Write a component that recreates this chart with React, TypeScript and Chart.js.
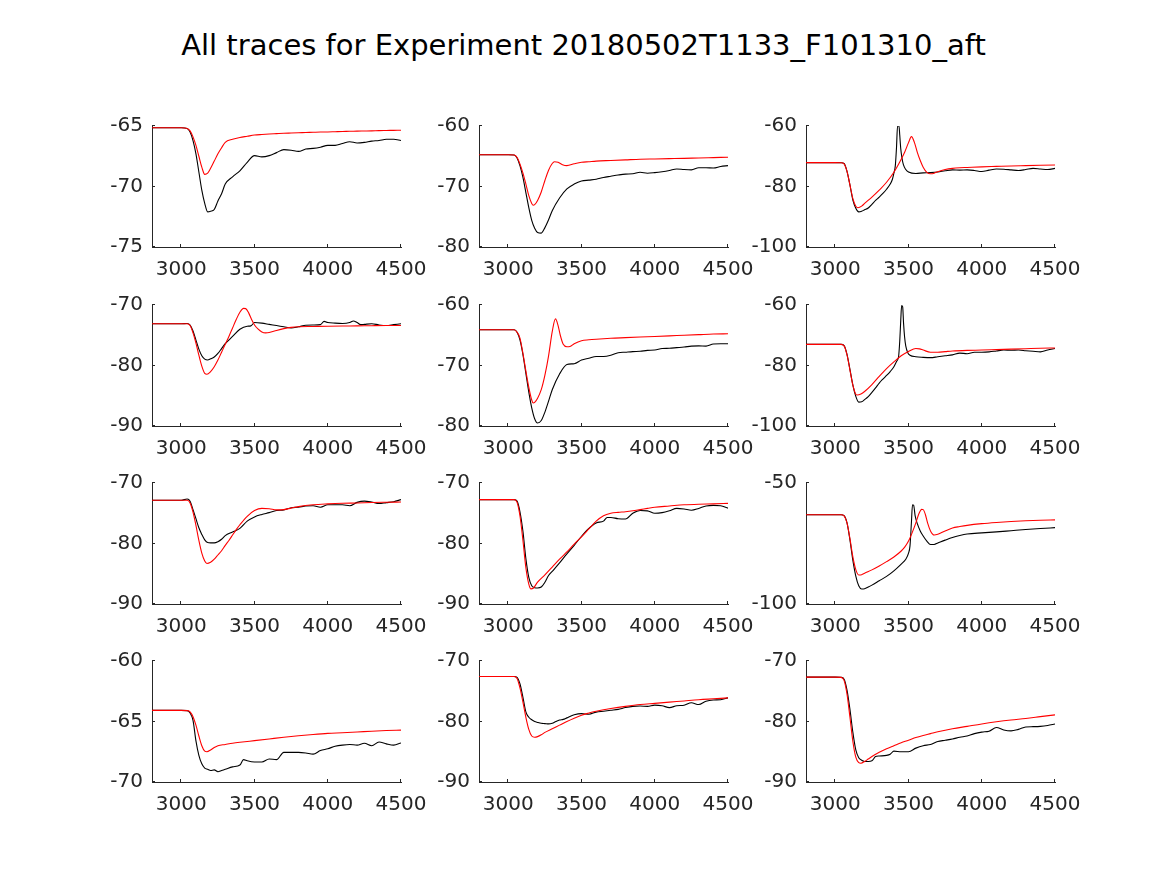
import React, { useEffect, useRef } from "react";
import { Chart, registerables } from "chart.js";

Chart.register(...registerables);

const TITLE = "All traces for Experiment 20180502T1133_F101310_aft";
const X_MIN = 2800;
const X_MAX = 4500;
const X_TICKS = [3000, 3500, 4000, 4500];

const GRID_A = [2800, 3000, 3040, 3060, 3080, 3100, 3120, 3140, 3160, 3180, 3200, 3225, 3250, 3275, 3300, 3350, 3400, 3450, 3500, 3550, 3600, 3650, 3700, 3750, 3800, 3850, 3900, 3950, 4000, 4050, 4100, 4150, 4200, 4250, 4300, 4350, 4400, 4450, 4500];

// Panel 1
const P1_RED_X = GRID_A;
const P1_RED_Y = [-65.15, -65.15, -65.2, -65.4, -65.9, -66.6, -67.5, -68.4, -69.0, -68.9, -68.5, -67.9, -67.3, -66.8, -66.35, -66.1, -65.95, -65.85, -65.75, -65.7, -65.66, -65.63, -65.6, -65.58, -65.56, -65.54, -65.52, -65.5, -65.49, -65.47, -65.45, -65.44, -65.42, -65.41, -65.4, -65.38, -65.37, -65.36, -65.35];
const P1_BLACK_X = GRID_A;
const P1_BLACK_Y = [-65.15, -65.15, -65.2, -65.5, -66.2, -67.3, -68.8, -70.3, -71.4, -72.1, -72.05, -71.9, -71.2, -70.6, -69.8, -69.2, -68.7, -68.0, -67.45, -67.55, -67.45, -67.2, -66.95, -67.0, -67.1, -66.9, -66.85, -66.75, -66.6, -66.6, -66.45, -66.3, -66.4, -66.35, -66.25, -66.2, -66.1, -66.1, -66.2];

// Panel 2
const P2_RED_X = [2800, 3000, 3040, 3060, 3080, 3100, 3120, 3140, 3160, 3170, 3180, 3200, 3225, 3250, 3275, 3300, 3315, 3340, 3370, 3400, 3450, 3500, 3550, 3600, 3700, 3800, 3900, 4000, 4100, 4200, 4300, 4400, 4500];
const P2_RED_Y = [-64.75, -64.75, -64.8, -65.2, -66.3, -67.8, -69.6, -71.5, -72.8, -73.1, -73.0, -72.3, -70.9, -69.0, -67.3, -66.2, -65.9, -66.0, -66.4, -66.55, -66.25, -66.0, -65.9, -65.8, -65.7, -65.6, -65.5, -65.45, -65.4, -65.35, -65.28, -65.22, -65.16];
const P2_BLACK_X = GRID_A;
const P2_BLACK_Y = [-64.75, -64.75, -64.8, -65.3, -66.6, -68.5, -71.0, -73.5, -75.6, -76.9, -77.6, -77.7, -76.8, -75.5, -74.0, -71.9, -70.4, -69.6, -69.1, -68.95, -68.8, -68.5, -68.3, -68.1, -67.95, -67.9, -67.65, -67.8, -67.7, -67.55, -67.35, -67.1, -67.2, -67.25, -66.9, -66.9, -66.95, -66.7, -66.55];

// Panel 3
const P3_RED_X = [2800, 3000, 3040, 3060, 3080, 3100, 3120, 3140, 3155, 3180, 3200, 3250, 3300, 3350, 3400, 3450, 3475, 3500, 3520, 3540, 3560, 3580, 3600, 3625, 3650, 3675, 3700, 3750, 3800, 3850, 3900, 4000, 4100, 4200, 4300, 4400, 4500];
const P3_RED_Y = [-72.1, -72.1, -72.15, -72.5, -75.0, -79.5, -84.0, -86.5, -87.0, -86.5, -85.6, -83.5, -81.2, -78.6, -75.3, -71.0, -68.5, -65.5, -63.5, -65.4, -68.7, -71.4, -73.6, -75.3, -75.8, -75.6, -75.1, -74.4, -74.0, -73.8, -73.7, -73.5, -73.35, -73.2, -73.1, -73.0, -72.9];
const P3_BLACK_X = [2800, 3000, 3040, 3060, 3080, 3100, 3120, 3140, 3160, 3180, 3200, 3225, 3250, 3275, 3300, 3325, 3350, 3375, 3390, 3400, 3410, 3418, 3425, 3435, 3440, 3447, 3455, 3465, 3480, 3500, 3550, 3600, 3650, 3700, 3750, 3800, 3850, 3900, 3950, 4000, 4050, 4100, 4150, 4200, 4250, 4300, 4350, 4400, 4450, 4500];
const P3_BLACK_Y = [-72.1, -72.1, -72.15, -72.4, -75.0, -79.5, -84.5, -87.2, -88.4, -88.2, -87.7, -87.1, -85.9, -84.6, -83.5, -82.3, -80.9, -79.2, -77.6, -75.6, -73.0, -67.0, -60.0, -60.0, -63.0, -67.5, -70.5, -72.8, -74.3, -75.2, -75.7, -75.5, -75.4, -75.2, -74.8, -74.5, -74.6, -74.5, -74.7, -75.05, -74.6, -74.2, -74.3, -74.5, -74.7, -74.4, -74.0, -74.2, -74.4, -74.0];

// Panel 4
const P4_RED_X = [2800, 3000, 3040, 3060, 3080, 3100, 3120, 3140, 3160, 3175, 3200, 3225, 3250, 3275, 3300, 3325, 3350, 3375, 3400, 3425, 3440, 3460, 3480, 3500, 3525, 3550, 3575, 3600, 3650, 3700, 3750, 3800, 3900, 4000, 4100, 4200, 4300, 4400, 4500];
const P4_RED_Y = [-73.1, -73.1, -73.1, -73.4, -74.6, -76.3, -78.3, -80.1, -81.3, -81.45, -81.0, -80.2, -79.1, -77.8, -76.5, -75.2, -73.8, -72.4, -71.2, -70.55, -70.6, -71.3, -72.4, -73.3, -74.0, -74.45, -74.6, -74.55, -74.2, -73.9, -73.7, -73.6, -73.55, -73.5, -73.47, -73.45, -73.42, -73.4, -73.4];
const P4_BLACK_X = [2800, 3000, 3040, 3060, 3080, 3100, 3120, 3140, 3160, 3180, 3200, 3225, 3250, 3275, 3300, 3350, 3400, 3450, 3475, 3500, 3550, 3600, 3650, 3700, 3750, 3800, 3850, 3900, 3950, 3975, 4000, 4050, 4100, 4150, 4175, 4200, 4225, 4250, 4300, 4350, 4400, 4450, 4500];
const P4_BLACK_Y = [-73.1, -73.1, -73.05, -73.3, -74.3, -75.8, -77.3, -78.4, -78.95, -79.1, -78.9, -78.6, -78.0, -77.2, -76.4, -75.2, -74.0, -73.5, -73.45, -72.9, -73.0, -73.2, -73.4, -73.6, -73.8, -73.6, -73.35, -73.3, -73.25, -72.7, -72.9, -73.0, -73.05, -72.9, -72.65, -72.9, -73.25, -73.2, -73.1, -73.3, -73.4, -73.25, -73.1];

// Panel 5
const P5_RED_X = [2800, 3000, 3040, 3060, 3080, 3100, 3120, 3140, 3160, 3170, 3180, 3200, 3225, 3250, 3275, 3300, 3322, 3340, 3355, 3375, 3400, 3425, 3450, 3500, 3550, 3600, 3700, 3800, 3900, 4000, 4100, 4200, 4300, 4400, 4500];
const P5_RED_Y = [-64.1, -64.1, -64.1, -64.5, -65.5, -68.0, -70.9, -73.6, -75.7, -76.2, -76.1, -75.4, -74.0, -71.6, -68.4, -64.4, -62.3, -63.4, -65.0, -66.5, -66.9, -66.8, -66.4, -65.9, -65.75, -65.65, -65.5, -65.4, -65.3, -65.2, -65.1, -65.0, -64.9, -64.8, -64.75];
const P5_BLACK_X = GRID_A;
const P5_BLACK_Y = [-64.1, -64.1, -64.1, -64.5, -65.8, -68.2, -71.3, -74.4, -77.0, -78.8, -79.5, -79.1, -77.7, -75.9, -74.0, -71.4, -69.85, -69.7, -69.1, -68.8, -68.5, -68.5, -68.3, -67.9, -67.8, -67.7, -67.65, -67.5, -67.45, -67.2, -67.15, -67.05, -66.95, -66.8, -66.75, -66.8, -66.45, -66.4, -66.4];

// Panel 6
const P6_RED_X = [2800, 3000, 3040, 3060, 3080, 3100, 3120, 3140, 3150, 3175, 3200, 3250, 3300, 3350, 3400, 3450, 3500, 3550, 3575, 3600, 3650, 3700, 3750, 3800, 3900, 4000, 4100, 4200, 4300, 4400, 4500];
const P6_RED_Y = [-73.0, -73.0, -73.0, -73.5, -76.5, -81.5, -86.5, -89.5, -89.75, -89.4, -88.6, -86.3, -83.6, -81.0, -78.8, -76.8, -75.4, -74.4, -74.5, -74.9, -75.6, -75.6, -75.4, -75.2, -75.0, -74.9, -74.75, -74.6, -74.45, -74.3, -74.2];
const P6_BLACK_X = [2800, 3000, 3040, 3060, 3080, 3100, 3120, 3140, 3160, 3180, 3200, 3225, 3250, 3275, 3300, 3325, 3350, 3375, 3400, 3420, 3432, 3440, 3447, 3453, 3460, 3466, 3473, 3481, 3495, 3510, 3550, 3600, 3650, 3700, 3750, 3800, 3850, 3900, 3950, 4000, 4050, 4100, 4150, 4200, 4250, 4300, 4350, 4400, 4450, 4500];
const P6_BLACK_Y = [-73.0, -73.0, -73.0, -73.4, -76.3, -81.3, -86.5, -90.2, -92.1, -92.0, -91.3, -90.3, -88.9, -87.4, -85.8, -84.5, -83.3, -82.0, -80.4, -78.5, -77.1, -72.0, -65.0, -60.2, -60.6, -66.0, -70.5, -73.5, -75.8, -76.6, -77.1, -77.3, -77.4, -77.1, -76.8, -76.5, -75.9, -76.1, -75.6, -75.6, -75.5, -75.2, -74.9, -74.95, -74.9, -75.1, -75.3, -75.5, -74.9, -74.4];

// Panel 7
const P7_RED_X = [2800, 3000, 3040, 3060, 3080, 3100, 3120, 3140, 3160, 3175, 3200, 3225, 3250, 3275, 3300, 3325, 3350, 3375, 3400, 3450, 3500, 3550, 3600, 3650, 3700, 3750, 3800, 3900, 4000, 4100, 4200, 4300, 4400, 4500];
const P7_RED_Y = [-72.85, -72.85, -72.85, -73.3, -74.8, -77.0, -79.5, -81.6, -82.9, -83.3, -83.1, -82.6, -81.9, -81.2, -80.3, -79.5, -78.6, -77.7, -76.9, -75.5, -74.55, -74.2, -74.25, -74.45, -74.4, -74.15, -73.9, -73.6, -73.45, -73.35, -73.3, -73.22, -73.18, -73.15];
const P7_BLACK_X = GRID_A;
const P7_BLACK_Y = [-72.85, -72.85, -72.65, -73.0, -74.4, -75.9, -77.4, -78.5, -79.4, -79.85, -79.9, -79.9, -79.7, -79.3, -78.7, -78.1, -77.5, -76.3, -75.6, -75.2, -74.9, -74.55, -74.45, -74.1, -74.0, -73.8, -73.75, -74.0, -73.6, -73.6, -73.6, -73.75, -73.2, -73.0, -73.15, -73.4, -73.25, -73.1, -72.75];

// Panel 8
const P8_RED_X = [2800, 3000, 3040, 3060, 3080, 3100, 3120, 3140, 3155, 3170, 3200, 3250, 3300, 3350, 3400, 3450, 3500, 3550, 3600, 3650, 3700, 3750, 3800, 3850, 3900, 3950, 4000, 4100, 4200, 4300, 4400, 4500];
const P8_RED_Y = [-72.75, -72.75, -72.75, -73.2, -75.5, -79.5, -84.0, -86.7, -87.5, -87.4, -86.4, -85.2, -83.9, -82.6, -81.4, -80.1, -78.9, -77.6, -76.3, -75.4, -75.0, -74.85, -74.75, -74.6, -74.4, -74.2, -74.0, -73.8, -73.6, -73.5, -73.45, -73.37];
const P8_BLACK_X = [2800, 3000, 3040, 3060, 3080, 3100, 3120, 3140, 3160, 3180, 3200, 3225, 3250, 3275, 3300, 3350, 3400, 3450, 3500, 3550, 3600, 3650, 3675, 3700, 3750, 3800, 3850, 3900, 3950, 4000, 4050, 4100, 4150, 4200, 4250, 4300, 4350, 4400, 4450, 4500];
const P8_BLACK_Y = [-72.75, -72.75, -72.75, -73.0, -74.8, -78.0, -82.5, -85.6, -87.0, -87.3, -87.35, -87.2, -86.4, -85.3, -84.6, -83.2, -81.7, -80.3, -78.8, -77.5, -76.6, -76.3, -75.7, -75.7, -75.9, -75.95, -75.0, -74.55, -74.6, -75.0, -74.9, -74.6, -74.2, -74.3, -74.5, -74.2, -73.8, -73.7, -73.75, -74.15];

// Panel 9
const P9_RED_X = [2800, 3000, 3040, 3060, 3080, 3100, 3120, 3140, 3160, 3180, 3200, 3250, 3300, 3350, 3400, 3450, 3475, 3500, 3525, 3550, 3570, 3590, 3600, 3615, 3630, 3650, 3675, 3700, 3750, 3800, 3850, 3900, 4000, 4100, 4200, 4300, 4400, 4500];
const P9_RED_Y = [-63.1, -63.1, -63.1, -63.6, -66.5, -73.0, -80.5, -85.8, -88.0, -87.9, -87.3, -85.9, -84.3, -82.5, -80.6, -78.1, -76.4, -74.0, -70.5, -66.5, -62.8, -60.9, -61.0, -63.0, -66.5, -69.8, -71.5, -71.2, -69.8, -68.6, -68.0, -67.5, -66.8, -66.3, -65.9, -65.6, -65.4, -65.25];
const P9_BLACK_X = [2800, 3000, 3040, 3060, 3080, 3100, 3120, 3140, 3160, 3180, 3200, 3225, 3250, 3300, 3350, 3400, 3450, 3480, 3500, 3510, 3520, 3527, 3535, 3545, 3560, 3580, 3600, 3625, 3650, 3675, 3700, 3750, 3800, 3850, 3900, 4000, 4100, 4200, 4300, 4400, 4500];
const P9_BLACK_Y = [-63.1, -63.1, -63.1, -63.5, -66.5, -73.5, -82.0, -88.5, -92.5, -93.8, -93.7, -93.0, -92.2, -90.4, -88.6, -86.3, -83.5, -81.6, -79.0, -76.0, -66.0, -59.0, -59.2, -63.5, -66.8, -69.8, -71.9, -74.0, -75.4, -75.4, -74.8, -73.6, -72.5, -71.7, -71.1, -70.6, -70.2, -69.7, -69.2, -68.8, -68.45];

// Panel 10
const P10_RED_X = [2800, 3000, 3040, 3060, 3080, 3100, 3120, 3140, 3160, 3175, 3200, 3225, 3250, 3300, 3350, 3400, 3500, 3600, 3700, 3800, 3900, 4000, 4100, 4200, 4300, 4400, 4500];
const P10_RED_Y = [-64.08, -64.08, -64.1, -64.2, -64.6, -65.3, -66.2, -67.0, -67.45, -67.5, -67.35, -67.15, -67.0, -66.9, -66.8, -66.72, -66.58, -66.44, -66.3, -66.18, -66.07, -65.98, -65.93, -65.87, -65.8, -65.75, -65.71];
const P10_BLACK_X = [2800, 3000, 3040, 3060, 3080, 3100, 3120, 3140, 3160, 3180, 3200, 3225, 3250, 3275, 3300, 3350, 3400, 3425, 3450, 3500, 3550, 3600, 3650, 3700, 3750, 3800, 3850, 3900, 3950, 4000, 4050, 4100, 4150, 4200, 4250, 4300, 4350, 4400, 4450, 4500];
const P10_BLACK_Y = [-64.08, -64.08, -64.1, -64.3, -64.9, -66.6, -67.8, -68.5, -68.85, -68.95, -69.05, -69.0, -69.15, -69.05, -68.95, -68.75, -68.6, -68.15, -68.25, -68.35, -68.35, -68.1, -68.15, -67.55, -67.55, -67.55, -67.6, -67.7, -67.4, -67.25, -67.05, -66.95, -66.9, -66.95, -66.8, -67.0, -66.7, -66.85, -66.95, -66.77];

// Panel 11
const P11_RED_X = [2800, 3000, 3040, 3060, 3080, 3100, 3120, 3140, 3160, 3180, 3200, 3225, 3250, 3300, 3350, 3400, 3450, 3500, 3550, 3600, 3650, 3700, 3800, 3900, 4000, 4100, 4200, 4300, 4400, 4500];
const P11_RED_Y = [-72.55, -72.55, -72.55, -72.9, -74.5, -76.8, -79.3, -81.3, -82.4, -82.6, -82.5, -82.2, -81.8, -81.2, -80.6, -80.0, -79.45, -78.95, -78.6, -78.3, -78.05, -77.85, -77.5, -77.2, -77.0, -76.8, -76.6, -76.4, -76.25, -76.1];
const P11_BLACK_X = [2800, 3000, 3040, 3060, 3080, 3100, 3120, 3140, 3160, 3180, 3200, 3225, 3250, 3275, 3300, 3325, 3350, 3375, 3400, 3450, 3500, 3550, 3600, 3650, 3700, 3750, 3800, 3850, 3900, 3950, 4000, 4050, 4100, 4150, 4200, 4250, 4300, 4350, 4400, 4450, 4500];
const P11_BLACK_Y = [-72.55, -72.55, -72.55, -72.7, -73.8, -76.0, -78.4, -79.3, -79.7, -80.0, -80.15, -80.3, -80.35, -80.4, -80.3, -80.0, -79.75, -79.65, -79.4, -78.9, -78.7, -78.8, -78.45, -78.3, -78.15, -78.0, -77.7, -77.5, -77.45, -77.5, -77.3, -77.4, -77.7, -77.4, -77.3, -76.9, -77.2, -76.65, -76.45, -76.4, -76.1];

// Panel 12
const P12_RED_X = [2800, 3000, 3040, 3060, 3080, 3100, 3120, 3140, 3160, 3175, 3200, 3225, 3250, 3300, 3350, 3400, 3450, 3500, 3550, 3600, 3650, 3700, 3800, 3900, 4000, 4100, 4200, 4300, 4400, 4500];
const P12_RED_Y = [-72.66, -72.66, -72.7, -73.2, -75.5, -79.3, -83.3, -85.9, -86.8, -86.9, -86.6, -86.2, -85.8, -85.1, -84.5, -84.0, -83.5, -83.1, -82.65, -82.3, -82.0, -81.7, -81.2, -80.8, -80.4, -80.05, -79.75, -79.5, -79.2, -78.9];
const P12_BLACK_X = [2800, 3000, 3040, 3060, 3080, 3100, 3120, 3140, 3160, 3180, 3200, 3225, 3250, 3275, 3300, 3350, 3375, 3400, 3450, 3500, 3550, 3600, 3650, 3700, 3750, 3800, 3850, 3900, 3950, 4000, 4050, 4100, 4150, 4200, 4250, 4300, 4350, 4400, 4450, 4500];
const P12_BLACK_Y = [-72.66, -72.66, -72.7, -73.0, -74.8, -78.0, -81.8, -84.7, -86.0, -86.4, -86.6, -86.6, -86.5, -85.8, -85.7, -85.6, -85.4, -84.9, -85.0, -85.0, -84.4, -84.0, -83.8, -83.3, -83.1, -82.9, -82.6, -82.4, -82.0, -81.75, -81.6, -81.0, -81.4, -81.55, -81.3, -80.9, -80.85, -80.8, -80.65, -80.4];

const Y_MIN = [-75, -80, -100, -90, -80, -100, -90, -90, -100, -70, -90, -90];
const Y_MAX = [-65, -60, -60, -70, -60, -60, -70, -70, -50, -60, -70, -70];
const Y_TICKS = [
  [-75, -70, -65], [-80, -70, -60], [-100, -80, -60],
  [-90, -80, -70], [-80, -70, -60], [-100, -80, -60],
  [-90, -80, -70], [-90, -80, -70], [-100, -50],
  [-70, -65, -60], [-90, -80, -70], [-90, -80, -70],
];

const SERIES = [
  [P1_RED_X, P1_RED_Y, P1_BLACK_X, P1_BLACK_Y],
  [P2_RED_X, P2_RED_Y, P2_BLACK_X, P2_BLACK_Y],
  [P3_RED_X, P3_RED_Y, P3_BLACK_X, P3_BLACK_Y],
  [P4_RED_X, P4_RED_Y, P4_BLACK_X, P4_BLACK_Y],
  [P5_RED_X, P5_RED_Y, P5_BLACK_X, P5_BLACK_Y],
  [P6_RED_X, P6_RED_Y, P6_BLACK_X, P6_BLACK_Y],
  [P7_RED_X, P7_RED_Y, P7_BLACK_X, P7_BLACK_Y],
  [P8_RED_X, P8_RED_Y, P8_BLACK_X, P8_BLACK_Y],
  [P9_RED_X, P9_RED_Y, P9_BLACK_X, P9_BLACK_Y],
  [P10_RED_X, P10_RED_Y, P10_BLACK_X, P10_BLACK_Y],
  [P11_RED_X, P11_RED_Y, P11_BLACK_X, P11_BLACK_Y],
  [P12_RED_X, P12_RED_Y, P12_BLACK_X, P12_BLACK_Y],
];

// Layout (page pixels)
const COL_LEFT = [152, 479, 806];
const ROW_TOP = [125, 304, 482, 660];
const PLOT_W = 249;
const PLOT_H = 122;
const AX_W = 70;
const AX_H = 45;
const PAD_T = 20;
const PAD_R = 40;
const FONT = "'DejaVu Sans', sans-serif";
const AXIS_COLOR = "#262626";

const inwardTicks = {
  id: "inwardTicks",
  afterDraw(chart: any) {
    const { ctx, chartArea, scales } = chart;
    ctx.save();
    ctx.strokeStyle = AXIS_COLOR;
    ctx.lineWidth = 1;
    ctx.beginPath();
    for (const t of scales.x.ticks) {
      const px = Math.round(scales.x.getPixelForValue(t.value)) - 0.5;
      ctx.moveTo(px, chartArea.bottom);
      ctx.lineTo(px, chartArea.bottom - 3);
    }
    for (const t of scales.y.ticks) {
      const py = Math.round(scales.y.getPixelForValue(t.value)) - 0.5;
      ctx.moveTo(chartArea.left, py);
      ctx.lineTo(chartArea.left + 3, py);
    }
    ctx.stroke();
    ctx.restore();
  },
};

function toPoints(xs: number[], ys: number[]) {
  return xs.map((x, i) => ({ x, y: ys[i] }));
}

function Panel({ index }: { index: number }) {
  const ref = useRef<HTMLCanvasElement | null>(null);
  const row = Math.floor(index / 3);
  const col = index % 3;
  const cw = AX_W + PLOT_W + PAD_R;
  const ch = PAD_T + PLOT_H + AX_H;

  useEffect(() => {
    const [rx, ry, bx, by] = SERIES[index];
    const yTicks = Y_TICKS[index];
    const tickFont = { family: FONT, size: 20 };
    const chart = new Chart(ref.current as HTMLCanvasElement, {
      type: "line",
      data: {
        datasets: [
          {
            data: toPoints(rx, ry),
            borderColor: "#ff0000",
            borderWidth: 1.1,
            pointRadius: 0,
            fill: false,
            cubicInterpolationMode: "monotone",
          },
          {
            data: toPoints(bx, by),
            borderColor: "#000000",
            borderWidth: 1.1,
            pointRadius: 0,
            fill: false,
            cubicInterpolationMode: "monotone",
          },
        ],
      },
      options: {
        responsive: false,
        animation: false,
        events: [],
        parsing: false as any,
        layout: { padding: { left: 0, top: PAD_T, right: PAD_R, bottom: 0 } },
        plugins: { legend: { display: false }, tooltip: { enabled: false } },
        scales: {
          x: {
            type: "linear",
            position: "bottom",
            min: X_MIN,
            max: X_MAX,
            afterBuildTicks: (s: any) => {
              s.ticks = X_TICKS.map((v) => ({ value: v }));
            },
            afterFit: (s: any) => {
              s.height = AX_H;
            },
            grid: { display: false, drawTicks: false },
            border: { display: true, color: AXIS_COLOR, width: 1 },
            ticks: {
              color: AXIS_COLOR,
              font: tickFont,
              padding: 11,
              maxRotation: 0,
              autoSkip: false,
              callback: (v: any) => String(v),
            },
          },
          y: {
            type: "linear",
            position: "left",
            min: Y_MIN[index],
            max: Y_MAX[index],
            afterBuildTicks: (s: any) => {
              s.ticks = yTicks.map((v) => ({ value: v }));
            },
            afterFit: (s: any) => {
              s.width = AX_W;
            },
            grid: { display: false, drawTicks: false },
            border: { display: true, color: AXIS_COLOR, width: 1 },
            ticks: {
              color: AXIS_COLOR,
              font: tickFont,
              padding: 9,
              autoSkip: false,
              callback: (v: any) => String(v),
            },
          },
        },
      } as any,
      plugins: [inwardTicks],
    });
    return () => chart.destroy();
  }, [index]);

  return (
    <canvas
      ref={ref}
      width={cw}
      height={ch}
      style={{
        position: "absolute",
        left: COL_LEFT[col] - AX_W,
        top: ROW_TOP[row] - PAD_T,
        width: cw,
        height: ch,
      }}
    />
  );
}

export default function App() {
  return (
    <div
      style={{
        position: "absolute",
        left: 0,
        top: 0,
        width: 1167,
        height: 875,
        background: "#ffffff",
        overflow: "hidden",
      }}
    >
      <div
        style={{
          position: "absolute",
          left: 0,
          top: 31,
          width: 1167,
          textAlign: "center",
          fontFamily: FONT,
          fontSize: 29,
          lineHeight: "29px",
          color: "#000000",
          whiteSpace: "nowrap",
        }}
      >
        {TITLE}
      </div>
      {SERIES.map((_, i) => (
        <Panel key={i} index={i} />
      ))}
    </div>
  );
}
